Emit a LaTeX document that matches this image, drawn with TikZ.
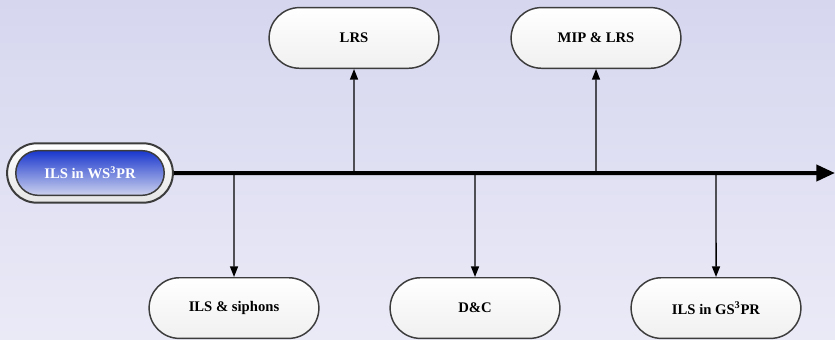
\documentclass[tikz,border=0pt]{standalone}
\usepackage{fontspec}
\setmainfont{Liberation Serif}
\usetikzlibrary{arrows.meta,positioning,shapes.misc}

\definecolor{bgtop}{RGB}{214,214,239}
\definecolor{bgbot}{RGB}{234,234,247}
\definecolor{rim}{RGB}{60,60,60}
\definecolor{bluetop}{RGB}{25,55,205}
\definecolor{bluebot}{RGB}{205,210,238}

\tikzset{
  stage/.style={rounded rectangle, draw=rim, line width=1.1pt, top color=white,
    bottom color=gray!12, minimum width=134pt, minimum height=45.5pt,
    font=\bfseries\fontsize{11}{13}\selectfont},
  shell/.style={rounded rectangle, draw=rim, line width=1.5pt, top color=white,
    bottom color=gray!20, minimum width=131pt, minimum height=44.5pt},
  core/.style={rounded rectangle, draw=rim, line width=1.1pt, top color=bluetop,
    bottom color=bluebot, minimum width=118pt, minimum height=33.5pt,
    text=white, font=\bfseries\fontsize{11}{13}\selectfont},
  axis/.style={line width=3pt, -{Triangle[length=14pt,width=12pt]}},
  branch/.style={line width=1.1pt, -{Triangle[length=8pt,width=6pt]}}
}

\begin{document}
\begin{tikzpicture}[x=0.75pt,y=-0.75pt,node distance=78pt]

\shade[top color=bgtop,bottom color=bgbot] (0,0) rectangle (835,339);
\useasboundingbox (0,0) rectangle (835,339);

\node(wsshell)[shell] at (90,173){};
\node(ws)[core] at (wsshell){ILS in WS\textsuperscript{3}PR};

\coordinate(j1) at (234,173);
\coordinate(j2) at (354,173);
\coordinate(j3) at (475,173);
\coordinate(j4) at (596,173);
\coordinate(j5) at (716,173);
\coordinate(tip) at (835,173);

\node(siphons)[stage,below=of j1]{ILS \& siphons};

\node(lrs)[stage,above=of j2]{LRS};

\node(dc)[stage,below=of j3]{D\&C};

\node(miplrs)[stage,above=of j4]{MIP \& LRS};

\node(gs)[stage,below=of j5]{ILS in GS\textsuperscript{3}PR};

\draw [axis] (wsshell) -- (tip);

\draw [branch] (j1) -- (siphons);
\draw [branch] (j2) -- (lrs);
\draw [branch] (j3) -- (dc);
\draw [branch] (j4) -- (miplrs);
\draw [branch] (j5) -- (gs);

\end{tikzpicture}
\end{document}
